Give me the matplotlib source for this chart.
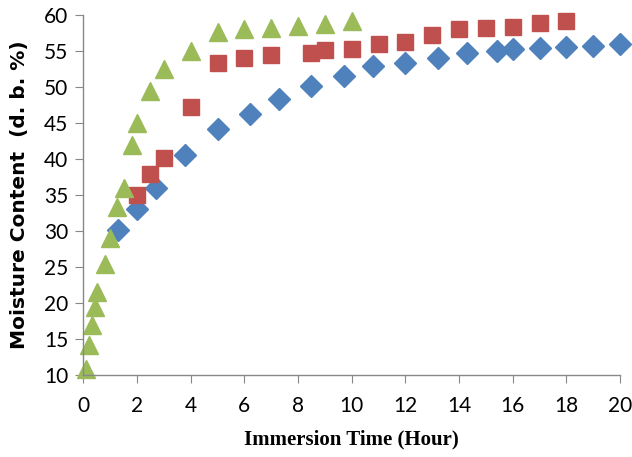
import matplotlib.pyplot as plt

# Immersion time (hour) and moisture content (d.b. %)
blue_t = [1.3, 2.0, 2.7, 3.8, 5.0, 6.2, 7.3, 8.5, 9.7, 10.8, 12.0, 13.2, 14.3, 15.4, 16.0, 17.0, 18.0, 19.0, 20.0]
blue_m = [30.2, 33.1, 36.0, 40.6, 44.2, 46.3, 48.4, 50.2, 51.5, 52.9, 53.3, 54.1, 54.8, 55.0, 55.3, 55.4, 55.6, 55.7, 56.0]

red_t = [2.0, 2.5, 3.0, 4.0, 5.0, 6.0, 7.0, 8.5, 9.0, 10.0, 11.0, 12.0, 13.0, 14.0, 15.0, 16.0, 17.0, 18.0]
red_m = [35.0, 38.0, 40.1, 47.2, 53.4, 54.0, 54.5, 54.8, 55.2, 55.3, 56.0, 56.2, 57.2, 58.0, 58.2, 58.4, 58.9, 59.2]

green_t = [0.1, 0.22, 0.33, 0.45, 0.5, 0.8, 1.0, 1.25, 1.5, 1.8, 2.0, 2.5, 3.0, 4.0, 5.0, 6.0, 7.0, 8.0, 9.0, 10.0]
green_m = [10.9, 14.2, 17.0, 19.5, 21.5, 25.5, 29.0, 33.3, 36.0, 42.0, 45.0, 49.5, 52.5, 55.0, 57.7, 58.0, 58.2, 58.5, 58.7, 59.2]

fig = plt.figure(figsize=(6.32, 4.57), dpi=100)
ax = fig.add_axes([0.132, 0.179, 0.849, 0.788])

ax.plot(blue_t, blue_m, 'D', color='#4F81BD', ms=11, mec='#4F81BD', clip_on=False)
ax.plot(red_t, red_m, 's', color='#C0504D', ms=12, mec='#C0504D', clip_on=False)
ax.plot(green_t, green_m, '^', color='#9BBB59', ms=13, mec='#9BBB59', clip_on=False)

ax.set_xlim(0, 20)
ax.set_ylim(10, 60)
ax.set_xticks(range(0, 21, 2))
ax.set_yticks(range(10, 61, 5))

for s in ['top', 'right']:
    ax.spines[s].set_visible(False)
for s in ['left', 'bottom']:
    ax.spines[s].set_color('#888888')
    ax.spines[s].set_linewidth(1.0)
ax.tick_params(direction='out', length=6, color='#888888', labelsize=15)
ax.tick_params(axis='x', pad=9)
ax.tick_params(axis='y', pad=5)
for lab in ax.get_xticklabels() + ax.get_yticklabels():
    lab.set_family('Lato')

ax.set_xlabel('Immersion Time (Hour)', family='Liberation Serif', fontweight='bold', fontsize=15, labelpad=10)
ax.set_ylabel('Moisture Content  (d. b. %)', family='DejaVu Sans', fontweight='bold', fontsize=14.5, labelpad=11)

fig.savefig('out.png')
